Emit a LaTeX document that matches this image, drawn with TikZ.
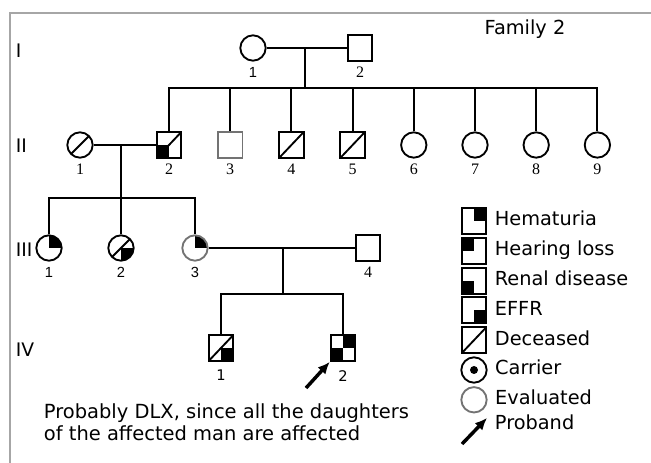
\documentclass[tikz,border=0pt]{standalone}
\usepackage{fontspec}
\setmainfont{DejaVu Sans}
\newfontfamily\serifnum{Liberation Serif}
\newfontfamily\sansnum{Liberation Sans}
\usetikzlibrary{positioning,arrows.meta}

% marks drawn inside a symbol (path picture)
\newcommand\qur{\fill (path picture bounding box.center) rectangle (path picture bounding box.north east);}
\newcommand\qul{\fill (path picture bounding box.center) rectangle (path picture bounding box.north west);}
\newcommand\qll{\fill (path picture bounding box.center) rectangle (path picture bounding box.south west);}
\newcommand\qlr{\fill (path picture bounding box.center) rectangle (path picture bounding box.south east);}
\newcommand\qdead{\draw[line width=1.4pt] (path picture bounding box.south west) -- (path picture bounding box.north east);}
\newcommand\qdot{\fill (path picture bounding box.center) circle (3pt);}

\begin{document}
\begin{tikzpicture}[x=0.75pt, y=-0.75pt, line width=1.4pt, node distance=45.9pt]

\useasboundingbox (0,0) rectangle (651,463);

%symbols
\tikzstyle{male}      = [draw=black, rectangle, minimum width=18.5pt, minimum height=19.5pt, inner sep=0pt]
\tikzstyle{female}    = [draw=black, circle, minimum size=19pt, inner sep=0pt]
\tikzstyle{evaluated} = [draw=black!55]
\tikzstyle{serifno}   = [inner sep=0pt, font=\serifnum\fontsize{12}{14}\selectfont]
\tikzstyle{sansno}    = [inner sep=0pt, font=\sansnum\fontsize{11}{13}\selectfont]
\tikzstyle{gen}       = [inner sep=0pt, anchor=west, text height=10.2pt, text depth=0pt, font=\fontsize{14}{16}\selectfont]
\tikzstyle{legtext}   = [inner sep=0pt, text height=10.5pt, text depth=0pt, yshift=1.5pt, font=\fontsize{14.5}{17}\selectfont]
\tikzstyle{proband}   = [line width=2.6pt, -{Latex[length=9pt,width=8pt]}]

%frame
\draw[black!35, line width=1.2pt] (10,463) -- (10,13) -- (651,13);

%generations
\node (g1) [gen] at (15,51)  {I};
\node (g2) [gen] at (15,146) {II};
\node (g3) [gen] at (15,250) {III};
\node (g4) [gen] at (15,350) {IV};

\node (title) [anchor=base, font=\fontsize{14.5}{17}\selectfont] at (525,35) {Family 2};

%I
\node (i1) [female] at (253,48) {};
\node (i2) [male]   at (360,48) {};

%II
\node (ii1) [female, path picture={\qdead}]     at (80,145)  {};
\node (ii2) [male,   path picture={\qll\qdead}] at (169,145) {};
\node (ii3) [male, evaluated, right of=ii2] {};
\node (ii4) [male, path picture={\qdead}, right of=ii3] {};
\node (ii5) [male, path picture={\qdead}, right of=ii4] {};
\node (ii6) [female, right of=ii5] {};
\node (ii7) [female, right of=ii6] {};
\node (ii8) [female, right of=ii7] {};
\node (ii9) [female, right of=ii8] {};

%III
\node (iii1) [female, path picture={\qur}]            at (49,248)  {};
\node (iii2) [female, path picture={\qlr\qdead}]      at (121,248) {};
\node (iii3) [female, evaluated, path picture={\qur}] at (195,248) {};
\node (iii4) [male]                                   at (368,248) {};

%IV
\node (iv1) [male, path picture={\qlr\qdead}] at (221,348) {};
\node (iv2) [male, path picture={\qur\qll}]   at (343,348) {};

%numbers
\foreach \p/\n in {i1/1, iii1/1, iii2/2, iii3/3}
  \node (no-\p) [sansno, below=3.5pt of \p] {\n};
\foreach \p/\n in {i2/2, ii1/1, ii2/2, ii3/3, ii4/4, ii5/5, ii6/6, ii7/7, ii8/8, ii9/9, iii4/4}
  \node (no-\p) [serifno, below=3pt of \p] {\n};
\foreach \p/\n in {iv1/1, iv2/2}
  \node (no-\p) [sansno, font=\fontsize{11}{13}\selectfont, below=5.5pt of \p] {\n};

%lines
\coordinate (m1) at (305,48);
\coordinate (s1) at (305,88);
\draw (i1) -- (i2);
\draw (m1) -- (s1);
\draw (ii2) -- (s1 -| ii2) -- (s1 -| ii9) -- (ii9);
\foreach \c in {ii3,ii4,ii5,ii6,ii7,ii8}
  \draw (s1 -| \c) -- (\c);

\coordinate (m2) at (121,145);
\coordinate (s2) at (121,198);
\draw (ii1) -- (ii2);
\draw (m2) -- (s2);
\draw (iii1) -- (s2 -| iii1) -- (s2 -| iii3) -- (iii3);
\draw (s2 -| iii2) -- (iii2);

\coordinate (m3) at (283,248);
\coordinate (s3) at (283,294);
\draw (iii3) -- (iii4);
\draw (m3) -- (s3);
\draw (iv1) -- (s3 -| iv1) -- (s3 -| iv2) -- (iv2);

\coordinate (pb) at (306,388);
\draw[proband] (pb) -- (iv2.south west);

\node (note) [anchor=north west, inner sep=0pt, align=left, font=\fontsize{14.6}{16.5}\selectfont] at (43,403)
  {Probably DLX, since all the daughters\\of the affected man are affected};

%legend
\begin{scope}[node distance=22.35pt]
\node (lg1) [male, path picture={\qur}]  at (474,221) {};
\node (lg2) [male, path picture={\qul}, below of=lg1] {};
\node (lg3) [male, path picture={\qll}, below of=lg2] {};
\node (lg4) [male, path picture={\qlr}, below of=lg3] {};
\node (lg5) [male, path picture={\qdead}, below of=lg4] {};
\node (lg6) [female, path picture={\qdot}, below of=lg5] {};
\node (lg7) [female, evaluated, below of=lg6] {};
\end{scope}
\coordinate (lg8a) at (462,444);
\coordinate (lg8b) at (487,418);
\draw[proband] (lg8a) -- (lg8b);

\node (lg1t) [legtext, right=5pt of lg1] {Hematuria};
\node (lg2t) [legtext, right=5pt of lg2] {Hearing loss};
\node (lg3t) [legtext, right=5pt of lg3] {Renal disease};
\node (lg4t) [legtext, right=5pt of lg4] {EFFR};
\node (lg5t) [legtext, right=5pt of lg5] {Deceased};
\node (lg6t) [legtext, right=5pt of lg6] {Carrier};
\node (lg7t) [legtext, right=5pt of lg7] {Evaluated};
\node (lg8t) [legtext, anchor=west] at (494,425) {Proband};

\end{tikzpicture}
\end{document}
